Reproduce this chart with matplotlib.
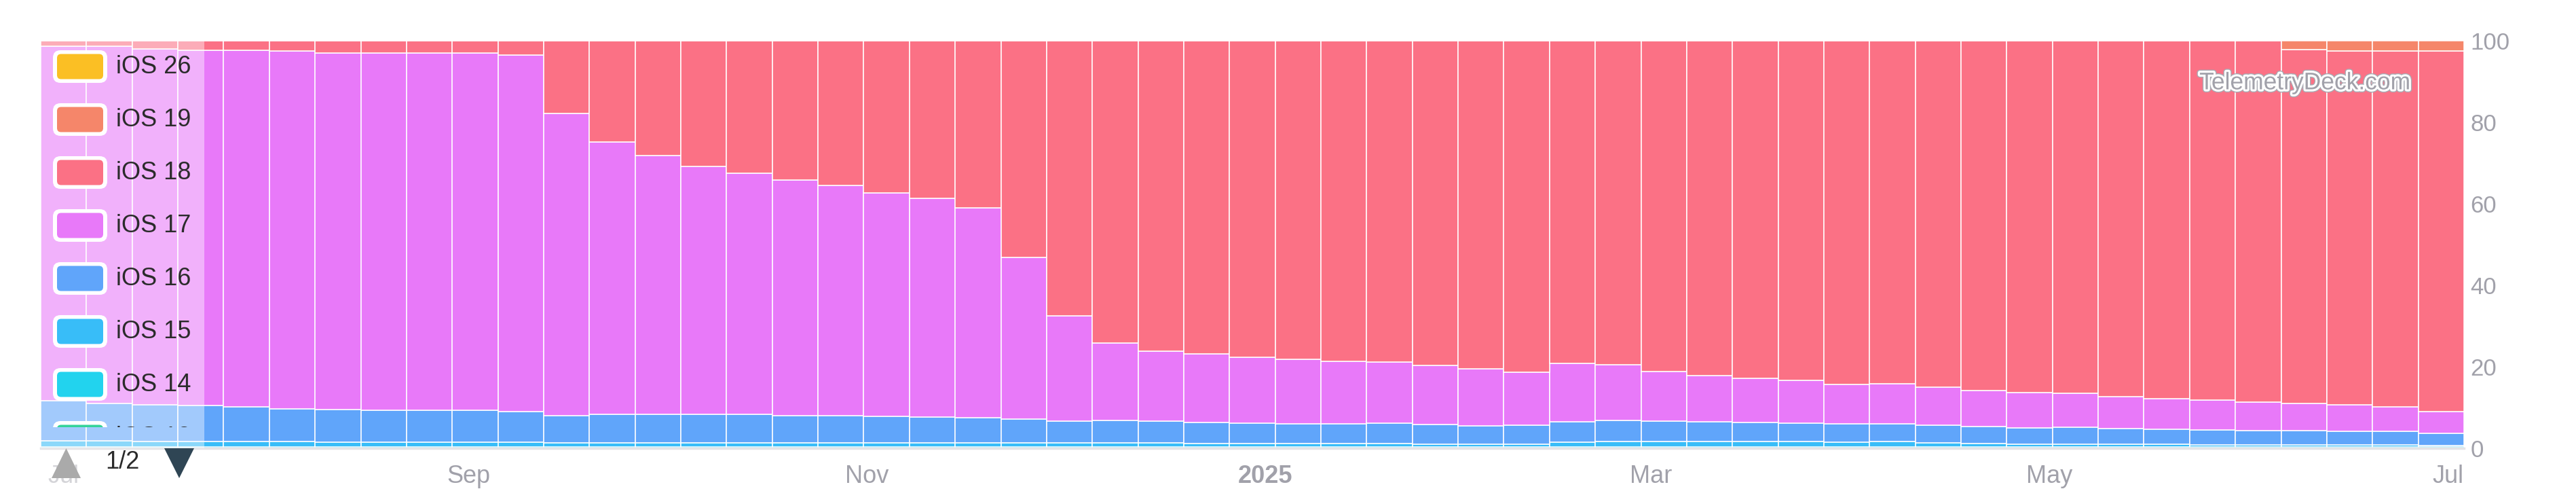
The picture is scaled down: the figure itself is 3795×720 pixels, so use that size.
import numpy as np
import pandas as pd
import matplotlib
matplotlib.use("Agg")
import matplotlib.pyplot as plt
import matplotlib.dates as mdates
import matplotlib.patheffects as pe
from matplotlib.patches import FancyBboxPatch, Rectangle, Polygon
from matplotlib.transforms import Affine2D

plt.rcParams['font.family'] = ['Liberation Sans', 'DejaVu Sans']

# ---------------- data (share of devices in %, weekly) ----------------
weeks = pd.date_range('2024-07-01', periods=53, freq='7D')

ios13 = [0.1, 0.1, 0.1, 0.1, 0.1, 0.1, 0.1, 0.1, 0.1, 0.1, 0.1, 0.1, 0.1, 0.1, 0.1, 0.1, 0.1, 0.1,
         0.1, 0.1, 0.1, 0.1, 0.1, 0.1, 0.1, 0.1, 0.1, 0.1, 0.1, 0.1, 0.1, 0.1, 0.1, 0.1, 0.1, 0.1,
         0.1, 0.1, 0.1, 0.1, 0.1, 0.1, 0.1, 0.1, 0.1, 0.1, 0.1, 0.1, 0.1, 0.1, 0.1, 0.1, 0.1]
ios14 = [0.2, 0.2, 0.2, 0.2, 0.2, 0.2, 0.2, 0.2, 0.2, 0.2, 0.2, 0.2, 0.2, 0.2, 0.2, 0.2, 0.2, 0.2,
         0.2, 0.2, 0.2, 0.2, 0.2, 0.2, 0.2, 0.2, 0.2, 0.2, 0.2, 0.2, 0.2, 0.2, 0.2, 0.2, 0.2, 0.2,
         0.2, 0.2, 0.2, 0.2, 0.2, 0.2, 0.2, 0.2, 0.2, 0.2, 0.2, 0.2, 0.2, 0.2, 0.2, 0.2, 0.2]
ios15 = [1.6, 1.6, 1.4, 1.4, 1.4, 1.4, 1.2, 1.2, 1.2, 1.2, 1.2, 1.1, 1.1, 1.1, 1.1, 1.1, 1.1, 1.1,
         1.1, 1.1, 1.0, 1.0, 1.0, 1.0, 1.0, 0.8, 0.8, 0.8, 0.8, 0.8, 0.7, 0.7, 0.7, 1.2, 1.4, 1.4,
         1.4, 1.4, 1.4, 1.2, 1.4, 1.1, 0.8, 0.7, 0.7, 0.7, 0.7, 0.6, 0.6, 0.6, 0.6, 0.6, 0.4]
ios16 = [9.7, 9.1, 9.0, 8.8, 8.5, 8.0, 8.0, 7.8, 7.8, 7.8, 7.5, 6.6, 7.0, 7.0, 7.0, 7.0, 6.6, 6.6,
         6.4, 6.2, 6.2, 5.9, 5.4, 5.5, 5.3, 5.3, 5.1, 4.9, 4.9, 5.1, 4.8, 4.5, 4.7, 5.0, 5.1, 4.9,
         4.8, 4.6, 4.5, 4.5, 4.3, 4.3, 4.3, 4.0, 4.2, 3.8, 3.7, 3.6, 3.5, 3.5, 3.3, 3.2, 2.9]
ios17 = [87.0, 87.6, 87.3, 87.2, 87.4, 87.8, 87.5, 87.7, 87.7, 87.7, 87.5, 74.2, 66.8, 63.5, 60.8,
         59.1, 57.9, 56.5, 54.8, 53.8, 51.5, 39.7, 25.8, 19.1, 17.2, 16.8, 16.2, 15.8, 15.4, 15.0,
         14.6, 14.0, 13.0, 14.3, 13.7, 12.3, 11.4, 10.9, 10.5, 9.7, 9.9, 9.3, 8.8, 8.7, 8.3, 7.9,
         7.5, 7.3, 7.0, 6.6, 6.5, 6.1, 5.4]
ios18 = [1.4, 1.4, 2.0, 2.3, 2.4, 2.5, 3.0, 3.0, 3.0, 3.0, 3.5, 17.8, 24.8, 28.1, 30.8, 32.5, 34.1,
         35.5, 37.4, 38.6, 41.0, 53.1, 67.5, 74.1, 76.2, 76.8, 77.6, 78.2, 78.6, 78.8, 79.6, 80.5,
         81.3, 79.2, 79.5, 81.1, 82.1, 82.8, 83.3, 84.3, 84.1, 85.0, 85.8, 86.3, 86.5, 87.3, 87.8,
         88.2, 88.6, 86.9, 86.8, 87.3, 88.5]
ios19 = [0, 0, 0, 0, 0, 0, 0, 0, 0, 0, 0, 0, 0, 0, 0, 0, 0, 0, 0, 0, 0, 0, 0, 0, 0, 0, 0,
         0, 0, 0, 0, 0, 0, 0, 0, 0, 0, 0, 0, 0, 0, 0, 0, 0, 0, 0, 0, 0, 0, 2.1, 2.5, 2.5, 2.5]
ios26 = [0, 0, 0, 0, 0, 0, 0, 0, 0, 0, 0, 0, 0, 0, 0, 0, 0, 0, 0, 0, 0, 0, 0, 0, 0, 0, 0,
         0, 0, 0, 0, 0, 0, 0, 0, 0, 0, 0, 0, 0, 0, 0, 0, 0, 0, 0, 0, 0, 0, 0, 0, 0, 0]

# bottom -> top
series = [ios13, ios14, ios15, ios16, ios17, ios18, ios19, ios26]
names = ['iOS 13', 'iOS 14', 'iOS 15', 'iOS 16', 'iOS 17', 'iOS 18', 'iOS 19', 'iOS 26']
colors = ['#34d399', '#22d3ee', '#38bdf8', '#60a5fa', '#e879f9', '#fb7185', '#f5866a', '#fbbf24']

tick_dates = ['2024-07-01', '2024-09-01', '2024-11-01', '2025-01-01', '2025-03-01', '2025-05-01', '2025-07-01']
tick_labels = ['Jul', 'Sep', 'Nov', '2025', 'Mar', 'May', 'Jul']

# ---------------- figure ----------------
W, H = 3795, 720
fig = plt.figure(figsize=(W / 100, H / 100), dpi=100)
ax = fig.add_axes([60 / W, 60 / H, 3570 / W, 600 / H])

x = mdates.date2num(weeks)
bottom = np.zeros(len(x))
for vals, c in zip(series, colors):
    vals = np.array(vals, dtype=float)
    lw = 1.1 if vals.max() > 0.5 else 0  # no white edge on the hair-thin layers
    ax.bar(x, vals, width=7, bottom=bottom, color=c, edgecolor='white', linewidth=lw, zorder=2)
    bottom += vals

ax.set_xlim(x[0] - 3.5, x[-1] + 3.5)
ax.set_ylim(0, 100)

ax.set_axisbelow(True)
ax.yaxis.grid(True, color='#f0f0f2', lw=1)
for s in ['top', 'left', 'right']:
    ax.spines[s].set_visible(False)
ax.spines['bottom'].set_color('#e4e4e7')
ax.spines['bottom'].set_linewidth(2.5)
ax.spines['bottom'].set_zorder(3)

ax.yaxis.tick_right()
ax.set_yticks([0, 20, 40, 60, 80, 100])
ax.tick_params(axis='y', length=0, pad=7, labelsize=25, labelcolor='#a1a1aa')
ax.set_xticks(mdates.date2num(pd.to_datetime(tick_dates)))
ax.set_xticklabels(tick_labels)
ax.tick_params(axis='x', length=0, pad=17, labelsize=26, labelcolor='#a1a1aa')
xl = ax.get_xticklabels()
xl[3].set_fontweight('bold')
xl[0].set_color('#d4d4d8')

# pixel coordinates, y pointing down
T = Affine2D().scale(1, -1).translate(0, H)

# watermark
ax.text(3396, 122, 'TelemetryDeck.com', transform=T, ha='center', va='center',
        fontsize=25.5, color='#a1a1aa', zorder=6,
        path_effects=[pe.Stroke(linewidth=6.5, foreground='#a9aab3'),
                      pe.Stroke(linewidth=4.5, foreground='white'), pe.Normal()])

# legend panel
fig.add_artist(Rectangle((60, 60), 241, 600, transform=T, facecolor='white',
                         alpha=0.42, edgecolor='none', zorder=5))
clip = Rectangle((60, 60), 241, 569, transform=T)
for i, (name, c) in enumerate(zip(names[::-1], colors[::-1])):
    cy = 98 + 78 * i
    outer = FancyBboxPatch((78, cy - 24), 80, 48, boxstyle='round,pad=0,rounding_size=11',
                           transform=T, facecolor='white', edgecolor='none', zorder=6)
    inner = FancyBboxPatch((84, cy - 18.5), 68, 37, boxstyle='round,pad=0,rounding_size=6',
                           transform=T, facecolor=c, edgecolor='none', zorder=7)
    fig.add_artist(outer)
    fig.add_artist(inner)
    t = fig.text(171, cy, name, transform=T, ha='left', va='center',
                 fontsize=26, color='#2b2b2b', zorder=7)
    for a in (outer, inner, t):
        a.set_clip_path(clip)

# pagination
fig.add_artist(Polygon([(76, 704), (119, 704), (97.5, 660)], closed=True, transform=T,
                       facecolor='#aaaaaa', edgecolor='none', zorder=6))
fig.add_artist(Polygon([(242, 660), (286, 660), (264, 704)], closed=True, transform=T,
                       facecolor='#2f4554', edgecolor='none', zorder=6))
fig.text(180, 681, '1/2', transform=T, ha='center', va='center', fontsize=26, color='#2b2b2b')

fig.savefig('out.png', dpi=100)
